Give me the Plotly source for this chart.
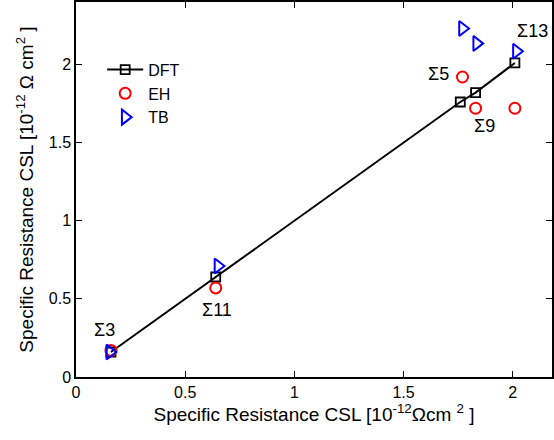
import plotly.graph_objects as go

dft_x = [0.16, 0.64, 1.76, 1.83, 2.01]
dft_y = [0.16, 0.64, 1.76, 1.82, 2.01]
eh_x = [0.16, 0.64, 1.77, 1.83, 2.01]
eh_y = [0.17, 0.57, 1.92, 1.72, 1.72]
tb_x = [0.155, 0.65, 1.77, 1.835, 2.017]
tb_y = [0.16, 0.71, 2.23, 2.135, 2.085]

labels = ["Σ3", "Σ11", "Σ5", "Σ9", "Σ13"]
label_x = [0.13, 0.645, 1.66, 1.87, 2.09]
label_y = [0.30, 0.43, 1.94, 1.605, 2.215]

tick_fnt = dict(family="Liberation Sans, Arial, sans-serif", size=16, color="black")
title_fnt = dict(family="Liberation Sans, Arial, sans-serif", size=19, color="black")
ann_fnt = dict(family="Liberation Sans, Arial, sans-serif", size=18, color="black")
leg_fnt = dict(family="Liberation Sans, Arial, sans-serif", size=16, color="black")

fig = go.Figure()
fig.add_trace(go.Scatter(x=dft_x, y=dft_y, mode="lines+markers", name="DFT",
                         line=dict(color="black", width=2),
                         marker=dict(symbol="square-open", size=9, color="black", line=dict(width=1.8))))
fig.add_trace(go.Scatter(x=eh_x, y=eh_y, mode="markers", name="EH",
                         marker=dict(symbol="circle-open", size=11, color="red", line=dict(width=2))))
fig.add_trace(go.Scatter(x=tb_x, y=tb_y, mode="markers", name="TB",
                         marker=dict(symbol="triangle-right-open", size=13, color="blue", line=dict(width=2))))

for t, x, y in zip(labels, label_x, label_y):
    fig.add_annotation(x=x, y=y, text=t, showarrow=False, font=ann_fnt)

axis_common = dict(showgrid=False, zeroline=False, showline=True, linecolor="black", linewidth=1.5,
                   mirror="ticks", ticks="inside", ticklen=6, tickwidth=1.2, tickcolor="black",
                   tickfont=tick_fnt)
fig.update_xaxes(range=[0, 2.18], tickvals=[0, 0.5, 1, 1.5, 2], ticktext=["0", "0.5", "1", "1.5", "2"],
                 title=dict(text="Specific Resistance CSL [10<sup>-12</sup>Ωcm <sup>2</sup> ]", font=title_fnt, standoff=5),
                 **axis_common)
fig.update_yaxes(range=[0, 2.4], tickvals=[0, 0.5, 1, 1.5, 2], ticktext=["0", "0.5", "1", "1.5", "2"],
                 title=dict(text="Specific Resistance CSL [10<sup>-12</sup> Ω cm<sup>2</sup> ]", font=title_fnt, standoff=10),
                 **axis_common)
fig.update_layout(width=554, height=440, margin=dict(l=76, r=0, t=2, b=63),
                  plot_bgcolor="white", paper_bgcolor="white",
                  legend=dict(x=0.055, y=0.865, xanchor="left", yanchor="top", font=leg_fnt,
                              bgcolor="rgba(0,0,0,0)", tracegroupgap=0, itemwidth=36),
                  font=tick_fnt)
fig.write_html("out.html")
